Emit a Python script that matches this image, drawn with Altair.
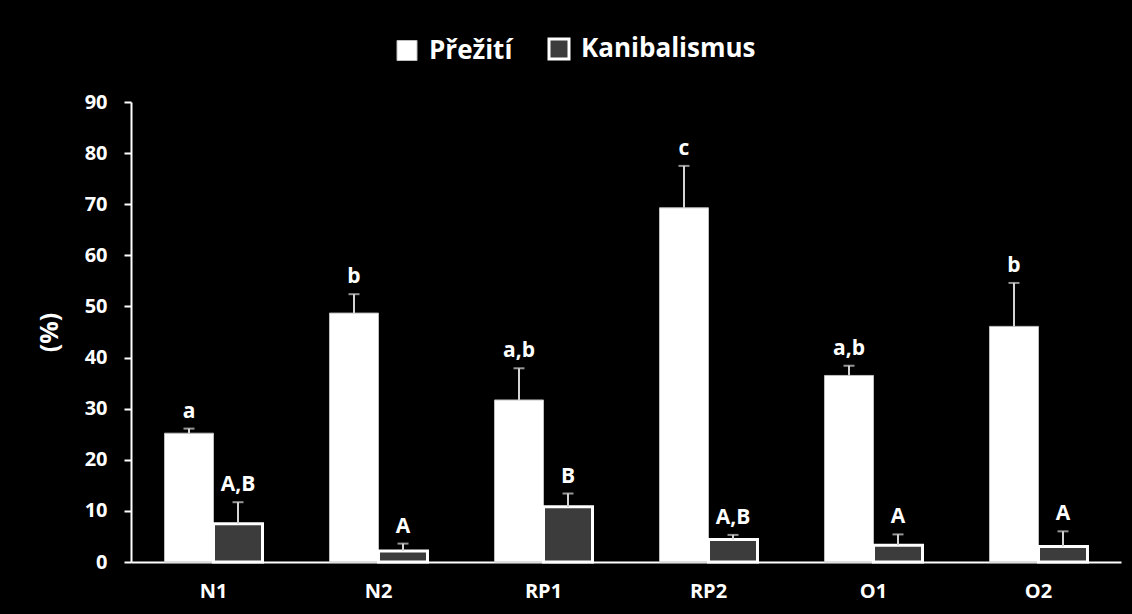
import altair as alt
import pandas as pd

# Treatment groups and the two measured series (mean %, upper SD)
groups = ["N1", "N2", "RP1", "RP2", "O1", "O2"]
series = ["Přežití", "Kanibalismus"]

prezit = [25.2, 48.7, 31.7, 69.3, 36.5, 46.1]
prezit_sd = [0.9, 3.7, 6.2, 8.2, 1.9, 8.5]
prezit_sig = ["a", "b", "a,b", "c", "a,b", "b"]

kanib = [7.5, 2.15, 10.8, 4.4, 3.3, 3.05]
kanib_sd = [4.2, 1.45, 2.6, 0.9, 2.1, 2.95]
kanib_sig = ["A,B", "A", "B", "A,B", "A", "A"]

y_ticks = [0, 10, 20, 30, 40, 50, 60, 70, 80, 90]

rows = []
for i, g in enumerate(groups):
    rows.append(dict(group=g, series=series[0], value=prezit[i],
                     top=prezit[i] + prezit_sd[i], sig=prezit_sig[i]))
    rows.append(dict(group=g, series=series[1], value=kanib[i],
                     top=kanib[i] + kanib_sd[i], sig=kanib_sig[i]))
df = pd.DataFrame(rows)

FONT = "Open Sans"

x_enc = alt.X(
    "group:N", sort=groups,
    scale=alt.Scale(paddingInner=0.406, paddingOuter=0.203),
    axis=alt.Axis(title=None, labelAngle=0, ticks=False, domain=True,
                  domainColor="white", domainWidth=2, labelColor="white",
                  labelFont=FONT, labelFontSize=20, labelFontWeight="bold",
                  labelPadding=19),
)
xo_enc = alt.XOffset("series:N", sort=series,
                     scale=alt.Scale(paddingInner=0, paddingOuter=0))
y_scale = alt.Scale(domain=[0, 90], nice=False)

base = alt.Chart(df)

bars = base.mark_bar().encode(
    x=x_enc,
    xOffset=xo_enc,
    y=alt.Y(
        "value:Q", scale=y_scale,
        axis=alt.Axis(title="(%)", values=y_ticks, grid=False,
                      domainColor="white", domainWidth=2,
                      tickColor="white", tickWidth=2, tickSize=7,
                      labelColor="white", labelFont=FONT, labelFontSize=20,
                      labelFontWeight="bold", labelPadding=17,
                      titleColor="white", titleFont=FONT, titleFontSize=25,
                      titleFontWeight="bold", titlePadding=22),
    ),
    color=alt.Color(
        "series:N", sort=series,
        scale=alt.Scale(domain=series, range=["#ffffff", "#3c3c3c"]),
        legend=alt.Legend(
            title=None, orient="none", legendX=263, legendY=-66,
            direction="horizontal", symbolType="square", symbolSize=400,
            symbolStrokeColor="white", symbolStrokeWidth=2,
            labelColor="white", labelFont=FONT, labelFontSize=26,
            labelFontWeight="bold", labelOffset=9, columnPadding=30,
            labelLimit=400, padding=0,
        ),
    ),
    stroke=alt.Stroke("series:N", sort=series,
                      scale=alt.Scale(domain=series, range=["#bfbfbf", "#ffffff"]),
                      legend=None),
    strokeWidth=alt.StrokeWidth("series:N", sort=series,
                                scale=alt.Scale(domain=series, range=[1, 3]),
                                legend=None),
)

err = base.mark_rule(color="#d4d4d4", strokeWidth=2).encode(
    x=x_enc, xOffset=xo_enc,
    y=alt.Y("value:Q", scale=y_scale), y2="top:Q",
)

caps = base.mark_tick(color="#d4d4d4", thickness=2, size=11).encode(
    x=x_enc, xOffset=xo_enc,
    y=alt.Y("top:Q", scale=y_scale),
)

letters = base.mark_text(
    color="white", font=FONT, fontSize=21, fontWeight="bold",
    baseline="bottom", dy=-7,
).encode(
    x=x_enc, xOffset=xo_enc,
    y=alt.Y("top:Q", scale=y_scale),
    text="sig:N",
)

chart = (
    alt.layer(bars, err, caps, letters)
    .properties(
        width=990, height=460,
        padding={"left": 131, "top": 102, "right": 11, "bottom": 52},
        autosize=alt.AutoSizeParams(type="none"),
        background="black",
    )
    .configure_view(stroke=None)
)

chart.save("out.html", embed_options={"renderer": "svg", "actions": False})
